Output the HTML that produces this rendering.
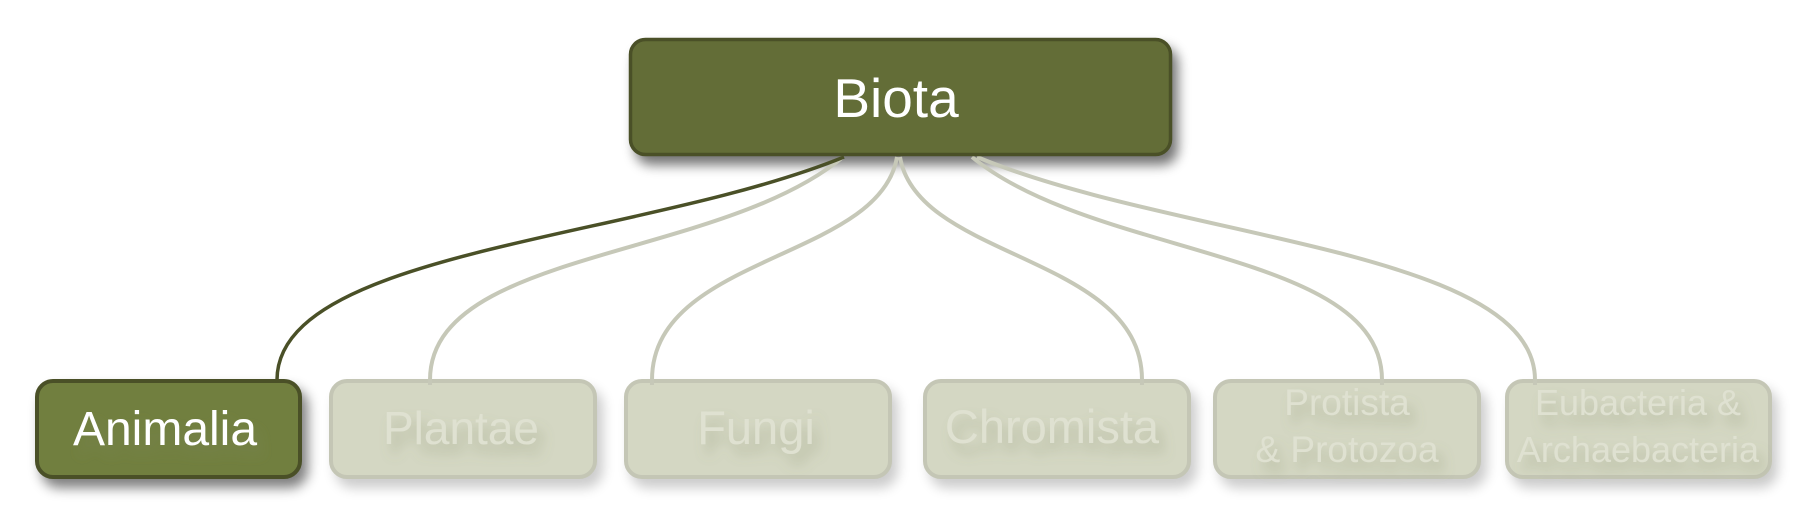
<!DOCTYPE html>
<html>
<head>
<meta charset="utf-8">
<style>
  html,body{margin:0;padding:0;background:#ffffff;}
  body{width:1800px;height:526px;overflow:hidden;}
  svg{display:block;}
  text{font-family:"Liberation Sans", sans-serif;}
</style>
</head>
<body>
<svg width="1800" height="526" viewBox="0 0 1800 526" xmlns="http://www.w3.org/2000/svg">
  <defs>
    <filter id="blur6" x="-20%" y="-40%" width="140%" height="180%">
      <feGaussianBlur stdDeviation="6"/>
    </filter>
    <filter id="tshadow" x="-20%" y="-40%" width="140%" height="200%">
      <feGaussianBlur in="SourceAlpha" stdDeviation="6" result="b"/>
      <feOffset dx="6" dy="10" in="b" result="o"/>
      <feFlood flood-color="#7f8660" flood-opacity="0.35"/>
      <feComposite in2="o" operator="in" result="s"/>
      <feMerge><feMergeNode in="s"/><feMergeNode in="SourceGraphic"/></feMerge>
    </filter>
  </defs>

  <!-- Shadows -->
  <rect x="635" y="47" width="543" height="118" rx="16" fill="#000" opacity="0.55" filter="url(#blur6)"/>
  <rect x="41" y="388" width="267" height="100" rx="18" fill="#000" opacity="0.5" filter="url(#blur6)"/>
  <g fill="#000" opacity="0.2" filter="url(#blur6)">
    <rect x="335" y="388" width="268" height="100" rx="18"/>
    <rect x="630" y="388" width="268" height="100" rx="18"/>
    <rect x="929" y="388" width="268" height="100" rx="18"/>
    <rect x="1219" y="388" width="268" height="100" rx="18"/>
    <rect x="1511" y="388" width="267" height="100" rx="18"/>
  </g>

  <!-- Child boxes -->
  <rect x="37" y="381" width="263" height="96" rx="16" fill="#717f3f" stroke="#4a5027" stroke-width="4"/>
  <g fill="#d4d7c3" stroke="#c4c6b5" stroke-width="4">
    <rect x="331" y="381" width="264" height="96" rx="16"/>
    <rect x="626" y="381" width="264" height="96" rx="16"/>
    <rect x="925" y="381" width="264" height="96" rx="16"/>
    <rect x="1215" y="381" width="264" height="96" rx="16"/>
    <rect x="1507" y="381" width="263" height="96" rx="16"/>
  </g>

  <!-- Connectors -->
  <g fill="none" stroke="#c6c8b8" stroke-width="4" stroke-linecap="butt">
    <path d="M843,157 C720,260 430,250 430,380 L430,385"/>
    <path d="M897,157 C880,260 652,255 652,380 L652,385"/>
    <path d="M900,157 C917,260 1142,255 1142,380 L1142,385"/>
    <path d="M972,157 C1094,258 1382,250 1382,380 L1382,385"/>
    <path d="M977,157 C1177,240 1535,250 1535,380 L1535,385"/>
  </g>
  <path d="M844,157 C640,240 277,250 277,380" fill="none" stroke="#4a5027" stroke-width="3.5"/>

  <!-- Biota box -->
  <rect x="630.5" y="39.5" width="540" height="115" rx="15" fill="#636d37" stroke="#4a5027" stroke-width="3.5"/>
  <text x="896" y="117" font-size="55" fill="#ffffff" text-anchor="middle">Biota</text>

  <!-- Labels -->
  <text x="165" y="445" font-size="48" fill="#ffffff" text-anchor="middle" filter="url(#tshadow)">Animalia</text>
  <g fill="#dfe1d1" text-anchor="middle" filter="url(#tshadow)">
    <text x="461" y="444" font-size="46">Plantae</text>
    <text x="756" y="444" font-size="47">Fungi</text>
    <text x="1052" y="443" font-size="47">Chromista</text>
    <text x="1347" y="415" font-size="37">Protista</text>
    <text x="1347" y="462" font-size="37">&amp; Protozoa</text>
    <text x="1638" y="415" font-size="36">Eubacteria &amp;</text>
    <text x="1638" y="462" font-size="36">Archaebacteria</text>
  </g>
</svg>
</body>
</html>
